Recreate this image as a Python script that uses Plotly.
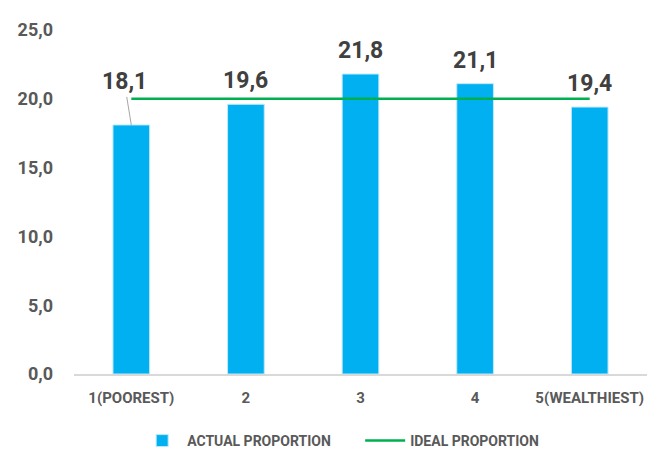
import plotly.graph_objects as go

categories = ["1(POOREST)", "2", "3", "4", "5(WEALTHIEST)"]
actual = [18.1, 19.6, 21.8, 21.1, 19.4]
ideal = [20, 20, 20, 20, 20]
y_ticks = [0, 5, 10, 15, 20, 25]

font_family = "Roboto, Liberation Sans, sans-serif"

fig = go.Figure()

fig.add_trace(go.Bar(
    x=categories, y=actual, name="ACTUAL PROPORTION",
    marker=dict(color="#00B0F0", line=dict(color="#BFE9FB", width=1)),
    width=0.32
))

fig.add_trace(go.Scatter(
    x=categories, y=ideal, name="IDEAL PROPORTION",
    mode="lines", line=dict(color="#00B050", width=2.5)
))

# data labels (first one pushed up over the ideal line with a leader line)
label_font = dict(family=font_family, size=23, color="#404040", weight="bold")
for i, v in enumerate(actual):
    label = f"{v:.1f}".replace(".", ",")
    if i == 0:
        fig.add_annotation(
            x=i, y=v, text=label, showarrow=True, arrowhead=0,
            arrowcolor="#A6A6A6", arrowwidth=1, ax=-7, ay=-43,
            font=label_font
        )
    else:
        fig.add_annotation(
            x=i, y=v, text=label, showarrow=False, yshift=8,
            yanchor="bottom", font=label_font
        )

fig.update_layout(
    width=647, height=450,
    margin=dict(l=74, r=0, t=30, b=76),
    paper_bgcolor="white", plot_bgcolor="white",
    separators=",.",
    bargap=0.68,
    font=dict(family=font_family, color="#595959", size=16),
    xaxis=dict(
        showline=True, linecolor="#D9D9D9", linewidth=1.5,
        showgrid=False, ticks="", automargin=False,
        tickfont=dict(family=font_family, size=15, color="#595959", weight="bold"),
        ticklabelstandoff=9
    ),
    yaxis=dict(
        range=[0, 25], tickvals=y_ticks, tickformat=".1f",
        showgrid=False, zeroline=False, showline=False, automargin=False,
        tickfont=dict(family=font_family, size=18, color="#595959", weight="bold"),
        ticklabelstandoff=20
    ),
    legend=dict(
        orientation="h", xref="container", x=0.212, xanchor="left",
        yref="container", y=0.02, yanchor="middle",
        font=dict(family=font_family, size=14, color="#595959", weight="bold"),
        itemwidth=40, entrywidth=168
    )
)

# drop the default page margin so the figure sits at the window's corner
fig.write_html("out.html", config={"displayModeBar": False},
               post_script="document.body.style.margin='0';")
